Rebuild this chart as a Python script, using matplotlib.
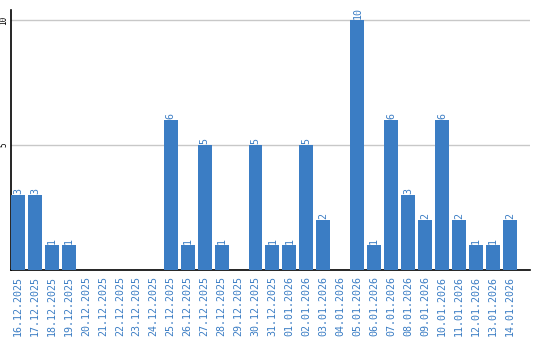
import matplotlib.pyplot as plt
import numpy as np

# Data
dates = ['16.12.2025', '17.12.2025', '18.12.2025', '19.12.2025', '20.12.2025',
         '21.12.2025', '22.12.2025', '23.12.2025', '24.12.2025', '25.12.2025',
         '26.12.2025', '27.12.2025', '28.12.2025', '29.12.2025', '30.12.2025',
         '31.12.2025', '01.01.2026', '02.01.2026', '03.01.2026', '04.01.2026',
         '05.01.2026', '06.01.2026', '07.01.2026', '08.01.2026', '09.01.2026',
         '10.01.2026', '11.01.2026', '12.01.2026', '13.01.2026', '14.01.2026']
counts = [3, 3, 1, 1, 0, 0, 0, 0, 0, 6,
          1, 5, 1, 0, 5, 1, 1, 5, 2, 0,
          10, 1, 6, 3, 2, 6, 2, 1, 1, 2]

blue = '#3b7dc4'

fig = plt.figure(figsize=(5.4, 3.4), dpi=100)
ax = fig.add_axes([11 / 540, 70 / 340, 519 / 540, 260 / 340])

x = np.arange(len(dates))
ax.bar(x, counts, width=0.82, color=blue, zorder=3)

# value labels above the bars
for xi, v in zip(x, counts):
    if v > 0:
        ax.text(xi, v + 0.05, str(v), rotation=90, ha='center', va='bottom',
                color=blue, fontsize=7.2, family='DejaVu Sans Mono')

ax.set_xlim(-0.41, 30.18)
ax.set_ylim(0, 10.4)
ax.set_xticks(x)
ax.set_xticklabels(dates, rotation=90, color=blue, fontsize=7.2,
                   family='DejaVu Sans Mono')
ax.set_yticks([5, 10])
ax.set_yticklabels(['5', '10'], rotation=90, va='center', ha='center',
                   fontsize=5.5, family='DejaVu Sans Mono')
ax.tick_params(axis='y', length=0, pad=5)
ax.tick_params(axis='x', length=0, pad=4)

# grid and spines
ax.grid(axis='y', color='#c8c8c8', linewidth=1, zorder=0)
ax.spines['top'].set_visible(False)
ax.spines['right'].set_visible(False)
ax.spines['left'].set_linewidth(1.2)
ax.spines['bottom'].set_linewidth(1.2)

plt.savefig('out.png', dpi=100)
